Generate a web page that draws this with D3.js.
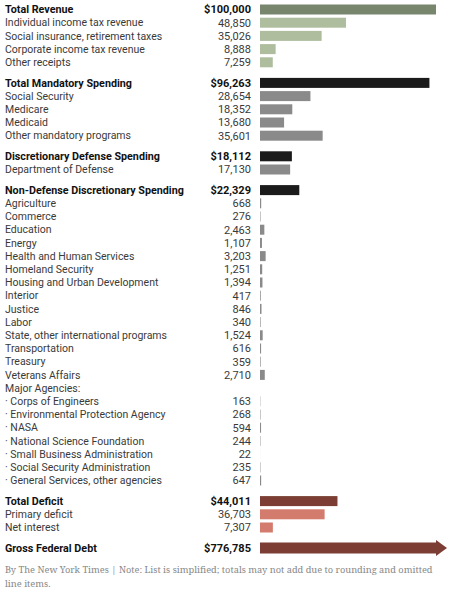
<!DOCTYPE html>
<html>
<head>
<meta charset="utf-8">
<script src="https://cdn.jsdelivr.net/npm/d3@7"></script>
<style>
  html, body { margin: 0; padding: 0; background: #fff; }
  svg { display: block; }
</style>
</head>
<body>
<script>
// ---- DATA ----
const groupNames = ["revenue", "mandatory", "defense", "nondefense", "deficit", "debt"];
const headLabels = ["Total Revenue", "Total Mandatory Spending", "Discretionary Defense Spending",
  "Non-Defense Discretionary Spending", "Total Deficit", "Gross Federal Debt"];
const headValues = [100000, 96263, 18112, 22329, 44011, 776785];

const revenueLabels = ["Individual income tax revenue", "Social insurance, retirement taxes",
  "Corporate income tax revenue", "Other receipts"];
const revenueValues = [48850, 35026, 8888, 7259];

const mandatoryLabels = ["Social Security", "Medicare", "Medicaid", "Other mandatory programs"];
const mandatoryValues = [28654, 18352, 13680, 35601];

const defenseLabels = ["Department of Defense"];
const defenseValues = [17130];

const nondefenseLabels = ["Agriculture", "Commerce", "Education", "Energy", "Health and Human Services",
  "Homeland Security", "Housing and Urban Development", "Interior", "Justice", "Labor",
  "State, other international programs", "Transportation", "Treasury", "Veterans Affairs",
  "Major Agencies:", "\u00b7 Corps of Engineers", "\u00b7 Environmental Protection Agency", "\u00b7 NASA",
  "\u00b7 National Science Foundation", "\u00b7 Small Business Administration",
  "\u00b7 Social Security Administration", "\u00b7 General Services, other agencies"];
const nondefenseValues = [668, 276, 2463, 1107, 3203, 1251, 1394, 417, 846, 340, 1524, 616, 359, 2710,
  null, 163, 268, 594, 244, 22, 235, 647];

const deficitLabels = ["Primary deficit", "Net interest"];
const deficitValues = [36703, 7307];

const debtLabels = [];
const debtValues = [];

const itemLabels = [revenueLabels, mandatoryLabels, defenseLabels, nondefenseLabels, deficitLabels, debtLabels];
const itemValues = [revenueValues, mandatoryValues, defenseValues, nondefenseValues, deficitValues, debtValues];

const footerLines = ["By The New York Times | Note: List is simplified; totals may not add due to rounding and omitted",
  "line items."];

// ---- STYLE ----
const headColors = {revenue: "#77866d", mandatory: "#1b1b1b", defense: "#1b1b1b", nondefense: "#1b1b1b",
  deficit: "#7b3d34", debt: "#7b3d34"};
const itemColors = {revenue: "#afbd9f", mandatory: "#8a8a8a", defense: "#8a8a8a", nondefense: "#8a8a8a",
  deficit: "#d37b6c", debt: "#d37b6c"};

const W = 452, H = 592;
const rowStep = 13.2, groupGap = 7.4;
const firstY = 9.5;

// Build rows
const rows = [];
let idx = 0;
groupNames.forEach((g, gi) => {
  rows.push({group: g, head: true, label: headLabels[gi], value: headValues[gi], pos: idx + gi * groupGap / rowStep});
  idx++;
  itemLabels[gi].forEach((l, i) => {
    rows.push({group: g, head: false, label: l, value: itemValues[gi][i], pos: idx + gi * groupGap / rowStep});
    idx++;
  });
});

const maxPos = d3.max(rows, d => d.pos);
const y = d3.scaleLinear().domain([0, maxPos]).range([firstY, firstY + maxPos * rowStep]);
const x = d3.scaleLinear().domain([0, 100000]).range([260, 436]);
const barH = 10;

const svg = d3.select("body").append("svg").attr("width", W).attr("height", H);

const fontSans = "Roboto, 'Liberation Sans', Arial, sans-serif";
const fmt = d3.format(",");

const g = svg.selectAll("g.row").data(rows).join("g").attr("class", "row")
  .attr("transform", d => `translate(0,${y(d.pos)})`);

g.append("text")
  .attr("x", 5).attr("dy", "0.36em")
  .attr("font-family", fontSans)
  .attr("font-size", d => d.head ? 10.75 : 10.5)
  .attr("font-weight", d => d.head ? 700 : 400)
  .attr("fill", d => d.head ? "#111" : "#3a3a3a")
  .text(d => d.label);

g.filter(d => d.value != null).append("text")
  .attr("x", 251).attr("dy", "0.36em")
  .attr("text-anchor", "end")
  .attr("font-family", fontSans)
  .attr("font-size", 11)
  .attr("font-weight", d => d.head ? 700 : 400)
  .attr("fill", d => d.head ? "#111" : "#3a3a3a")
  .text(d => (d.head ? "$" : "") + fmt(d.value));

// Bars (non-debt)
g.filter(d => d.value != null && d.group !== "debt").append("rect")
  .attr("x", x(0)).attr("y", -barH / 2)
  .attr("width", d => x(d.value) - x(0))
  .attr("height", barH)
  .attr("fill", d => d.head ? headColors[d.group] : itemColors[d.group]);

// Debt arrow (value off scale -> truncated with arrowhead)
const arrowEnd = 447, headLen = 11, headHalf = 8;
g.filter(d => d.group === "debt").append("path")
  .attr("d", () => {
    const x0 = x(0), x1 = arrowEnd - headLen;
    return `M${x0},${-barH/2 - 0.5}H${x1}V${-headHalf}L${arrowEnd},0L${x1},${headHalf}V${barH/2 + 0.5}H${x0}Z`;
  })
  .attr("fill", d => headColors[d.group]);

// Footer
svg.append("g").selectAll("text").data(footerLines).join("text")
  .attr("x", 5).attr("y", (d, i) => 573 + i * 13.5)
  .attr("font-family", "'Noto Serif', Georgia, serif")
  .attr("font-size", 9.25)
  .attr("fill", "#888")
  .text(d => d);
</script>
</body>
</html>
